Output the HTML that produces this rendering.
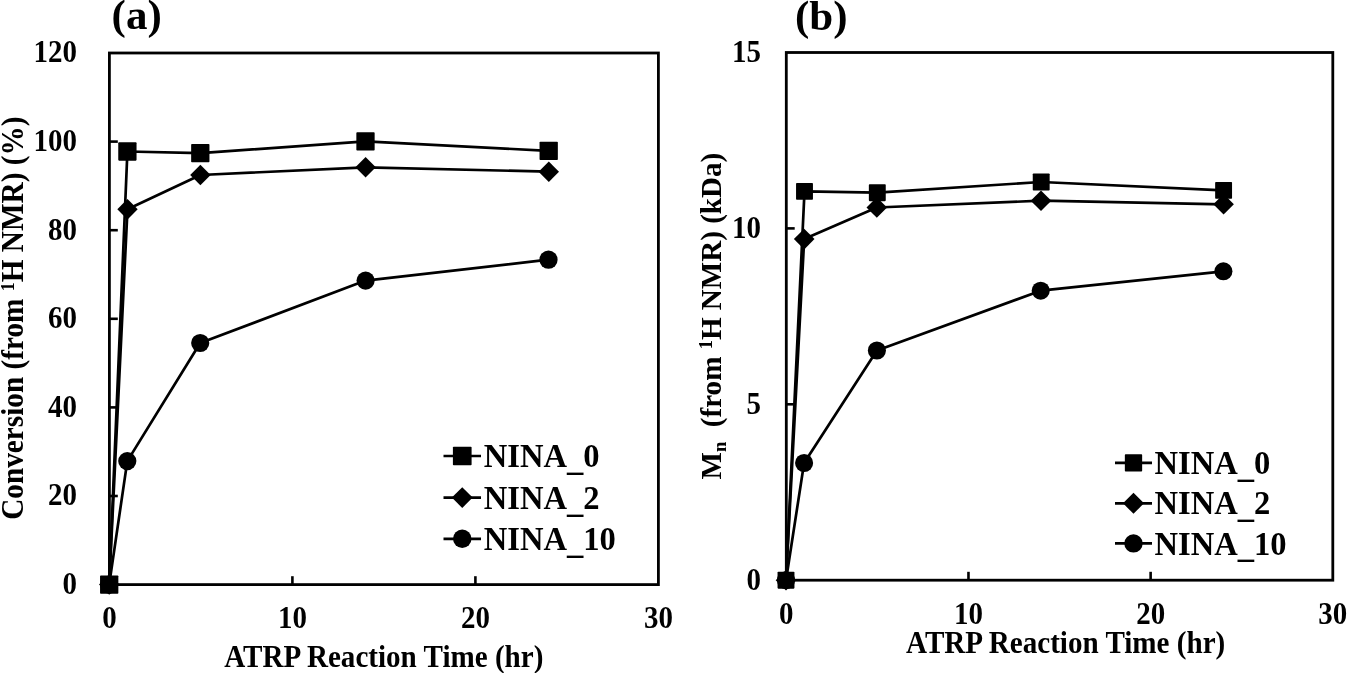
<!DOCTYPE html>
<html><head><meta charset="utf-8"><title>ATRP kinetics</title>
<style>
html,body{margin:0;padding:0;background:#fff;}
body{width:1347px;height:673px;overflow:hidden;}
svg{display:block;will-change:transform;filter:grayscale(1);}
svg text{font-family:"Liberation Serif",serif;font-weight:bold;fill:#000;}
</style></head><body>
<svg width="1347" height="673" viewBox="0 0 1347 673">
<rect width="1347" height="673" fill="#fff"/>
<g fill="#000">
<rect x="109.4" y="53.0" width="549.00" height="531.60" fill="none" stroke="#000" stroke-width="2.8"/>
<text transform="translate(77.00,594.09) scale(0.91,1)" text-anchor="end" font-size="31.8">0</text>
<line x1="109.4" y1="496.00" x2="117.80" y2="496.00" stroke="#000" stroke-width="2.6"/>
<text transform="translate(77.00,505.49) scale(0.91,1)" text-anchor="end" font-size="31.8">20</text>
<line x1="109.4" y1="407.40" x2="117.80" y2="407.40" stroke="#000" stroke-width="2.6"/>
<text transform="translate(77.00,416.89) scale(0.91,1)" text-anchor="end" font-size="31.8">40</text>
<line x1="109.4" y1="318.80" x2="117.80" y2="318.80" stroke="#000" stroke-width="2.6"/>
<text transform="translate(77.00,328.29) scale(0.91,1)" text-anchor="end" font-size="31.8">60</text>
<line x1="109.4" y1="230.20" x2="117.80" y2="230.20" stroke="#000" stroke-width="2.6"/>
<text transform="translate(77.00,239.69) scale(0.91,1)" text-anchor="end" font-size="31.8">80</text>
<line x1="109.4" y1="141.60" x2="117.80" y2="141.60" stroke="#000" stroke-width="2.6"/>
<text transform="translate(77.00,151.09) scale(0.91,1)" text-anchor="end" font-size="31.8">100</text>
<text transform="translate(77.00,62.49) scale(0.91,1)" text-anchor="end" font-size="31.8">120</text>
<text transform="translate(109.40,628.30) scale(0.91,1)" text-anchor="middle" font-size="31.8">0</text>
<line x1="292.40" y1="584.6" x2="292.40" y2="576.20" stroke="#000" stroke-width="2.6"/>
<text transform="translate(292.40,628.30) scale(0.91,1)" text-anchor="middle" font-size="31.8">10</text>
<line x1="475.40" y1="584.6" x2="475.40" y2="576.20" stroke="#000" stroke-width="2.6"/>
<text transform="translate(475.40,628.30) scale(0.91,1)" text-anchor="middle" font-size="31.8">20</text>
<text transform="translate(658.40,628.30) scale(0.91,1)" text-anchor="middle" font-size="31.8">30</text>
<polyline fill="none" stroke="#000" stroke-width="2.70" stroke-linejoin="round" points="109.20,584.60 127.40,151.50 200.30,153.20 365.50,141.30 548.70,150.90"/>
<polyline fill="none" stroke="#000" stroke-width="2.70" stroke-linejoin="round" points="109.20,584.60 127.50,209.30 200.40,175.00 365.60,167.30 548.80,171.70"/>
<polyline fill="none" stroke="#000" stroke-width="2.70" stroke-linejoin="round" points="109.20,584.60 127.30,461.10 200.20,343.00 365.60,280.60 548.50,259.70"/>
<rect x="100.05" y="575.45" width="18.30" height="18.30" rx="0.8"/>
<rect x="118.25" y="142.35" width="18.30" height="18.30" rx="0.8"/>
<rect x="191.15" y="144.05" width="18.30" height="18.30" rx="0.8"/>
<rect x="356.35" y="132.15" width="18.30" height="18.30" rx="0.8"/>
<rect x="539.55" y="141.75" width="18.30" height="18.30" rx="0.8"/>
<path d="M109.20 574.40 L119.40 584.60 L109.20 594.80 L99.00 584.60 Z"/>
<path d="M127.50 199.10 L137.70 209.30 L127.50 219.50 L117.30 209.30 Z"/>
<path d="M200.40 164.80 L210.60 175.00 L200.40 185.20 L190.20 175.00 Z"/>
<path d="M365.60 157.10 L375.80 167.30 L365.60 177.50 L355.40 167.30 Z"/>
<path d="M548.80 161.50 L559.00 171.70 L548.80 181.90 L538.60 171.70 Z"/>
<circle cx="109.20" cy="584.60" r="9.10"/>
<circle cx="127.30" cy="461.10" r="9.10"/>
<circle cx="200.20" cy="343.00" r="9.10"/>
<circle cx="365.60" cy="280.60" r="9.10"/>
<circle cx="548.50" cy="259.70" r="9.10"/>
<line x1="443.5" y1="456.0" x2="481.0" y2="456.0" stroke="#000" stroke-width="2.7"/>
<rect x="452.90" y="446.65" width="18.70" height="18.70" rx="0.8"/>
<text transform="translate(483.80,467.00) scale(0.958,1)" text-anchor="start" font-size="34.0">NINA<tspan dy="2.9">_</tspan><tspan dy="-2.9">0</tspan></text>
<line x1="443.5" y1="497.6" x2="481.0" y2="497.6" stroke="#000" stroke-width="2.7"/>
<path d="M462.25 487.20 L472.65 497.60 L462.25 508.00 L451.85 497.60 Z"/>
<text transform="translate(483.80,508.70) scale(0.958,1)" text-anchor="start" font-size="34.0">NINA<tspan dy="2.9">_</tspan><tspan dy="-2.9">2</tspan></text>
<line x1="443.5" y1="538.8" x2="481.0" y2="538.8" stroke="#000" stroke-width="2.7"/>
<circle cx="462.25" cy="538.80" r="9.25"/>
<text transform="translate(483.80,550.10) scale(0.958,1)" text-anchor="start" font-size="34.0">NINA<tspan dy="2.9">_</tspan><tspan dy="-2.9">10</tspan></text>
<text transform="translate(383.80,666.60) scale(0.945,1)" text-anchor="middle" font-size="30.8">ATRP Reaction Time (hr)</text>
<text transform="translate(111.60,29.20)" text-anchor="start" font-size="43.0">(a)</text>
<rect x="786.3" y="52.5" width="546.50" height="527.70" fill="none" stroke="#000" stroke-width="2.8"/>
<text transform="translate(761.00,589.69) scale(0.91,1)" text-anchor="end" font-size="31.8">0</text>
<line x1="786.3" y1="404.30" x2="794.70" y2="404.30" stroke="#000" stroke-width="2.6"/>
<text transform="translate(761.00,413.79) scale(0.91,1)" text-anchor="end" font-size="31.8">5</text>
<line x1="786.3" y1="228.40" x2="794.70" y2="228.40" stroke="#000" stroke-width="2.6"/>
<text transform="translate(761.00,237.89) scale(0.91,1)" text-anchor="end" font-size="31.8">10</text>
<text transform="translate(761.00,61.99) scale(0.91,1)" text-anchor="end" font-size="31.8">15</text>
<text transform="translate(786.30,623.90) scale(0.91,1)" text-anchor="middle" font-size="31.8">0</text>
<line x1="968.47" y1="580.2" x2="968.47" y2="571.80" stroke="#000" stroke-width="2.6"/>
<text transform="translate(968.47,623.90) scale(0.91,1)" text-anchor="middle" font-size="31.8">10</text>
<line x1="1150.63" y1="580.2" x2="1150.63" y2="571.80" stroke="#000" stroke-width="2.6"/>
<text transform="translate(1150.63,623.90) scale(0.91,1)" text-anchor="middle" font-size="31.8">20</text>
<text transform="translate(1332.80,623.90) scale(0.91,1)" text-anchor="middle" font-size="31.8">30</text>
<polyline fill="none" stroke="#000" stroke-width="2.70" stroke-linejoin="round" points="786.00,580.20 804.50,191.40 877.30,192.70 1041.20,182.00 1223.60,190.40"/>
<polyline fill="none" stroke="#000" stroke-width="2.70" stroke-linejoin="round" points="786.00,580.20 804.20,239.10 876.80,207.50 1041.00,200.70 1223.60,204.30"/>
<polyline fill="none" stroke="#000" stroke-width="2.70" stroke-linejoin="round" points="786.00,580.20 804.10,463.00 876.90,350.50 1040.70,290.70 1223.40,271.30"/>
<rect x="777.55" y="571.75" width="16.90" height="16.90" rx="0.8"/>
<rect x="796.05" y="182.95" width="16.90" height="16.90" rx="0.8"/>
<rect x="868.85" y="184.25" width="16.90" height="16.90" rx="0.8"/>
<rect x="1032.75" y="173.55" width="16.90" height="16.90" rx="0.8"/>
<rect x="1215.15" y="181.95" width="16.90" height="16.90" rx="0.8"/>
<path d="M786.00 569.90 L796.30 580.20 L786.00 590.50 L775.70 580.20 Z"/>
<path d="M804.20 228.80 L814.50 239.10 L804.20 249.40 L793.90 239.10 Z"/>
<path d="M876.80 197.20 L887.10 207.50 L876.80 217.80 L866.50 207.50 Z"/>
<path d="M1041.00 190.40 L1051.30 200.70 L1041.00 211.00 L1030.70 200.70 Z"/>
<path d="M1223.60 194.00 L1233.90 204.30 L1223.60 214.60 L1213.30 204.30 Z"/>
<circle cx="786.00" cy="580.20" r="9.05"/>
<circle cx="804.10" cy="463.00" r="9.05"/>
<circle cx="876.90" cy="350.50" r="9.05"/>
<circle cx="1040.70" cy="290.70" r="9.05"/>
<circle cx="1223.40" cy="271.30" r="9.05"/>
<line x1="1115.0" y1="462.9" x2="1152.0" y2="462.9" stroke="#000" stroke-width="2.7"/>
<rect x="1124.85" y="454.25" width="17.30" height="17.30" rx="0.8"/>
<text transform="translate(1154.50,473.70) scale(0.958,1)" text-anchor="start" font-size="34.0">NINA<tspan dy="2.9">_</tspan><tspan dy="-2.9">0</tspan></text>
<line x1="1115.0" y1="503.3" x2="1152.0" y2="503.3" stroke="#000" stroke-width="2.7"/>
<path d="M1133.50 492.80 L1144.00 503.30 L1133.50 513.80 L1123.00 503.30 Z"/>
<text transform="translate(1154.50,514.30) scale(0.958,1)" text-anchor="start" font-size="34.0">NINA<tspan dy="2.9">_</tspan><tspan dy="-2.9">2</tspan></text>
<line x1="1115.0" y1="543.4" x2="1152.0" y2="543.4" stroke="#000" stroke-width="2.7"/>
<circle cx="1133.50" cy="543.40" r="9.20"/>
<text transform="translate(1154.50,554.50) scale(0.958,1)" text-anchor="start" font-size="34.0">NINA<tspan dy="2.9">_</tspan><tspan dy="-2.9">10</tspan></text>
<text transform="translate(1065.65,653.10) scale(0.945,1)" text-anchor="middle" font-size="30.8">ATRP Reaction Time (hr)</text>
<text transform="translate(794.90,29.70)" text-anchor="start" font-size="43.0">(b)</text>
<text transform="translate(22.60,318.20) rotate(-90) scale(0.947,1)" text-anchor="middle" font-size="30.9">Conversion (from <tspan font-size="19.0" dy="-8.8">1</tspan><tspan dy="8.8">H NMR) (%)</tspan></text>
<text transform="translate(720.90,316.10) rotate(-90) scale(0.973,1)" text-anchor="middle" font-size="29.9" xml:space="preserve" style="white-space:pre">M<tspan font-size="19.0" dy="5.5">n</tspan><tspan dy="-5.5">  (from </tspan><tspan font-size="19.0" dy="-8.8">1</tspan><tspan dy="8.8">H NMR) (kDa)</tspan></text>
</g>
</svg>
</body></html>
